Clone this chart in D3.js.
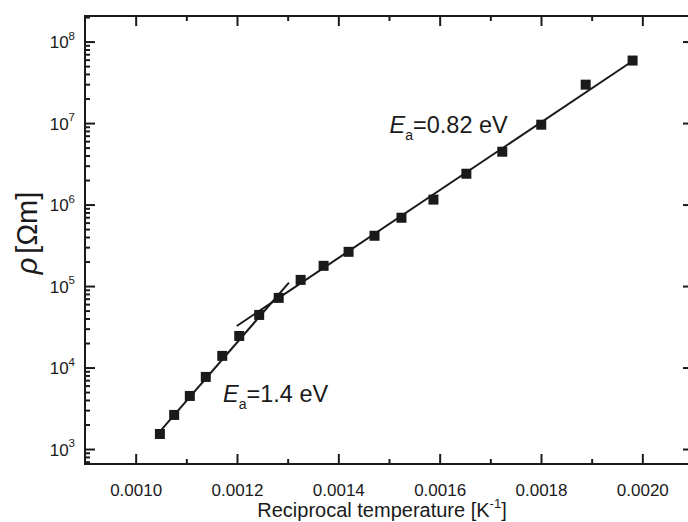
<!DOCTYPE html>
<html>
<head>
<meta charset="utf-8">
<script src="https://cdn.jsdelivr.net/npm/d3@7"></script>
<style>
  * { margin: 0; padding: 0; }
  body { background: #fff; width: 688px; height: 522px; overflow: hidden; }
  text { font-family: "Liberation Sans", Arial, sans-serif; fill: #1a1a1a; }
  .axis line, .axis path { stroke: #1a1a1a; }
</style>
</head>
<body>
<div id="chart"></div>
<script>
// reciprocal temperature [1/K]
const invT = [0.0010478, 0.0010760, 0.0011069, 0.0011384, 0.0011709, 0.0012044,
  0.0012438, 0.0012823, 0.0013256, 0.0013709, 0.0014202, 0.0014714, 0.0015246,
  0.0015877, 0.0016527, 0.0017236, 0.0018005, 0.0018882, 0.0019808];
// resistivity [Ohm m]
const rho = [1530, 2620, 4480, 7670, 13900, 24400, 44200, 71600, 119000, 177000,
  263000, 414000, 689000, 1.15e6, 2.39e6, 4.45e6, 9.55e6, 2.96e7, 5.85e7];

// fitted Arrhenius lines (end points)
const fitHighT = [[0.0010502, 1710], [0.0013025, 110000]];   // Ea = 1.4 eV
const fitLowT  = [[0.0011995, 32300], [0.0019808, 5.77e7]];  // Ea = 0.82 eV

const xTicks = [0.0010, 0.0012, 0.0014, 0.0016, 0.0018, 0.0020];
const xMinor = [0.0011, 0.0013, 0.0015, 0.0017, 0.0019];
const yExp = [3, 4, 5, 6, 7, 8];

const W = 688, H = 522;
const margin = {top: 16, left: 85, right: -5, bottom: 58};
const width = W - margin.left - margin.right,
      height = H - margin.top - margin.bottom;

const x = d3.scaleLinear().domain([0.0009, 0.0021]).range([0, width]);
const y = d3.scaleLog().domain([655, 2.06e8]).range([height, 0]);

const svg = d3.select("#chart").append("svg")
  .attr("width", W).attr("height", H);
const g = svg.append("g")
  .attr("transform", "translate(" + margin.left + "," + margin.top + ")");

// minor log ticks
let yMinor = [];
for (let e = 2; e <= 8; e++) {
  for (let k = 2; k <= 9; k++) {
    let v = k * Math.pow(10, e);
    if (v >= y.domain()[0] && v <= y.domain()[1]) yMinor.push(v);
  }
}
const yMajor = yExp.map(e => Math.pow(10, e));

const fmtX = d3.format(".4f");

// bottom axis, ticks pointing inward
g.append("g").attr("class", "axis")
  .attr("transform", "translate(0," + height + ")")
  .call(d3.axisBottom(x).tickValues(xMinor).tickSize(-5).tickFormat(""))
  .call(a => a.select(".domain").remove());
g.append("g").attr("class", "axis")
  .attr("transform", "translate(0," + height + ")")
  .call(d3.axisBottom(x).tickValues(xTicks).tickSize(-10).tickPadding(20).tickFormat(fmtX))
  .call(a => a.select(".domain").remove())
  .selectAll("text").attr("font-size", 17);

// top axis
g.append("g").attr("class", "axis")
  .call(d3.axisTop(x).tickValues(xMinor).tickSize(-5).tickFormat(""))
  .call(a => a.select(".domain").remove());
g.append("g").attr("class", "axis")
  .call(d3.axisTop(x).tickValues(xTicks).tickSize(-10).tickFormat(""))
  .call(a => a.select(".domain").remove());

// left axis
g.append("g").attr("class", "axis")
  .call(d3.axisLeft(y).tickValues(yMinor).tickSize(-5).tickFormat(""))
  .call(a => a.select(".domain").remove());
const yl = g.append("g").attr("class", "axis")
  .call(d3.axisLeft(y).tickValues(yMajor).tickSize(-10).tickFormat(""))
  .call(a => a.select(".domain").remove());

yl.selectAll(".tick").append("text")
  .attr("x", -10).attr("dy", "0.36em")
  .attr("text-anchor", "end")
  .attr("font-size", 17)
  .each(function(d) {
    const t = d3.select(this);
    t.append("tspan").text("10");
    t.append("tspan").attr("font-size", 11.5).attr("dy", "-0.75em")
      .text(Math.round(Math.log10(d)));
  });

// right axis
g.append("g").attr("class", "axis")
  .attr("transform", "translate(" + width + ",0)")
  .call(d3.axisRight(y).tickValues(yMinor).tickSize(-5).tickFormat(""))
  .call(a => a.select(".domain").remove());
g.append("g").attr("class", "axis")
  .attr("transform", "translate(" + width + ",0)")
  .call(d3.axisRight(y).tickValues(yMajor).tickSize(-10).tickFormat(""))
  .call(a => a.select(".domain").remove());

g.selectAll(".axis line").attr("stroke-width", 2);

// frame
g.append("rect")
  .attr("width", width).attr("height", height)
  .attr("fill", "none").attr("stroke", "#1a1a1a").attr("stroke-width", 2);

// fit lines
const line = d3.line().x(d => x(d[0])).y(d => y(d[1]));
[fitHighT, fitLowT].forEach(f => {
  g.append("path").attr("d", line(f))
    .attr("fill", "none").attr("stroke", "#1a1a1a").attr("stroke-width", 2);
});

// data markers
const pts = invT.map((v, i) => [v, rho[i]]);
const s = 10;
g.selectAll("rect.pt").data(pts).enter().append("rect")
  .attr("class", "pt")
  .attr("x", d => x(d[0]) - s / 2)
  .attr("y", d => y(d[1]) - s / 2)
  .attr("width", s).attr("height", s)
  .attr("fill", "#1a1a1a");

// activation energy labels
function eaLabel(xv, yv, txt) {
  const t = g.append("text")
    .attr("x", x(xv)).attr("y", y(yv))
    .attr("font-size", 23.5);
  t.append("tspan").attr("font-style", "italic").text("E");
  t.append("tspan").attr("font-size", 14).attr("dy", 7).text("a");
  t.append("tspan").attr("dy", -7).text(txt);
}
eaLabel(0.0015010, 7.5e6, "=0.82 eV");
eaLabel(0.0011724, 3780, "=1.4 eV");

// axis titles
svg.append("text")
  .attr("x", 382).attr("y", 517)
  .attr("text-anchor", "middle")
  .attr("font-size", 20)
  .call(t => {
    t.append("tspan").text("Reciprocal temperature [K");
    t.append("tspan").attr("font-size", 13).attr("dy", -9).text("-1");
    t.append("tspan").attr("dy", 9).text("]");
  });

svg.append("text")
  .attr("transform", "translate(37,233) rotate(-90)")
  .attr("text-anchor", "middle")
  .attr("font-size", 29)
  .call(t => {
    t.append("tspan").attr("font-style", "italic").text("\u03c1");
    t.append("tspan").attr("dx", 4).text("[\u03a9m]");
  });
</script>
</body>
</html>
